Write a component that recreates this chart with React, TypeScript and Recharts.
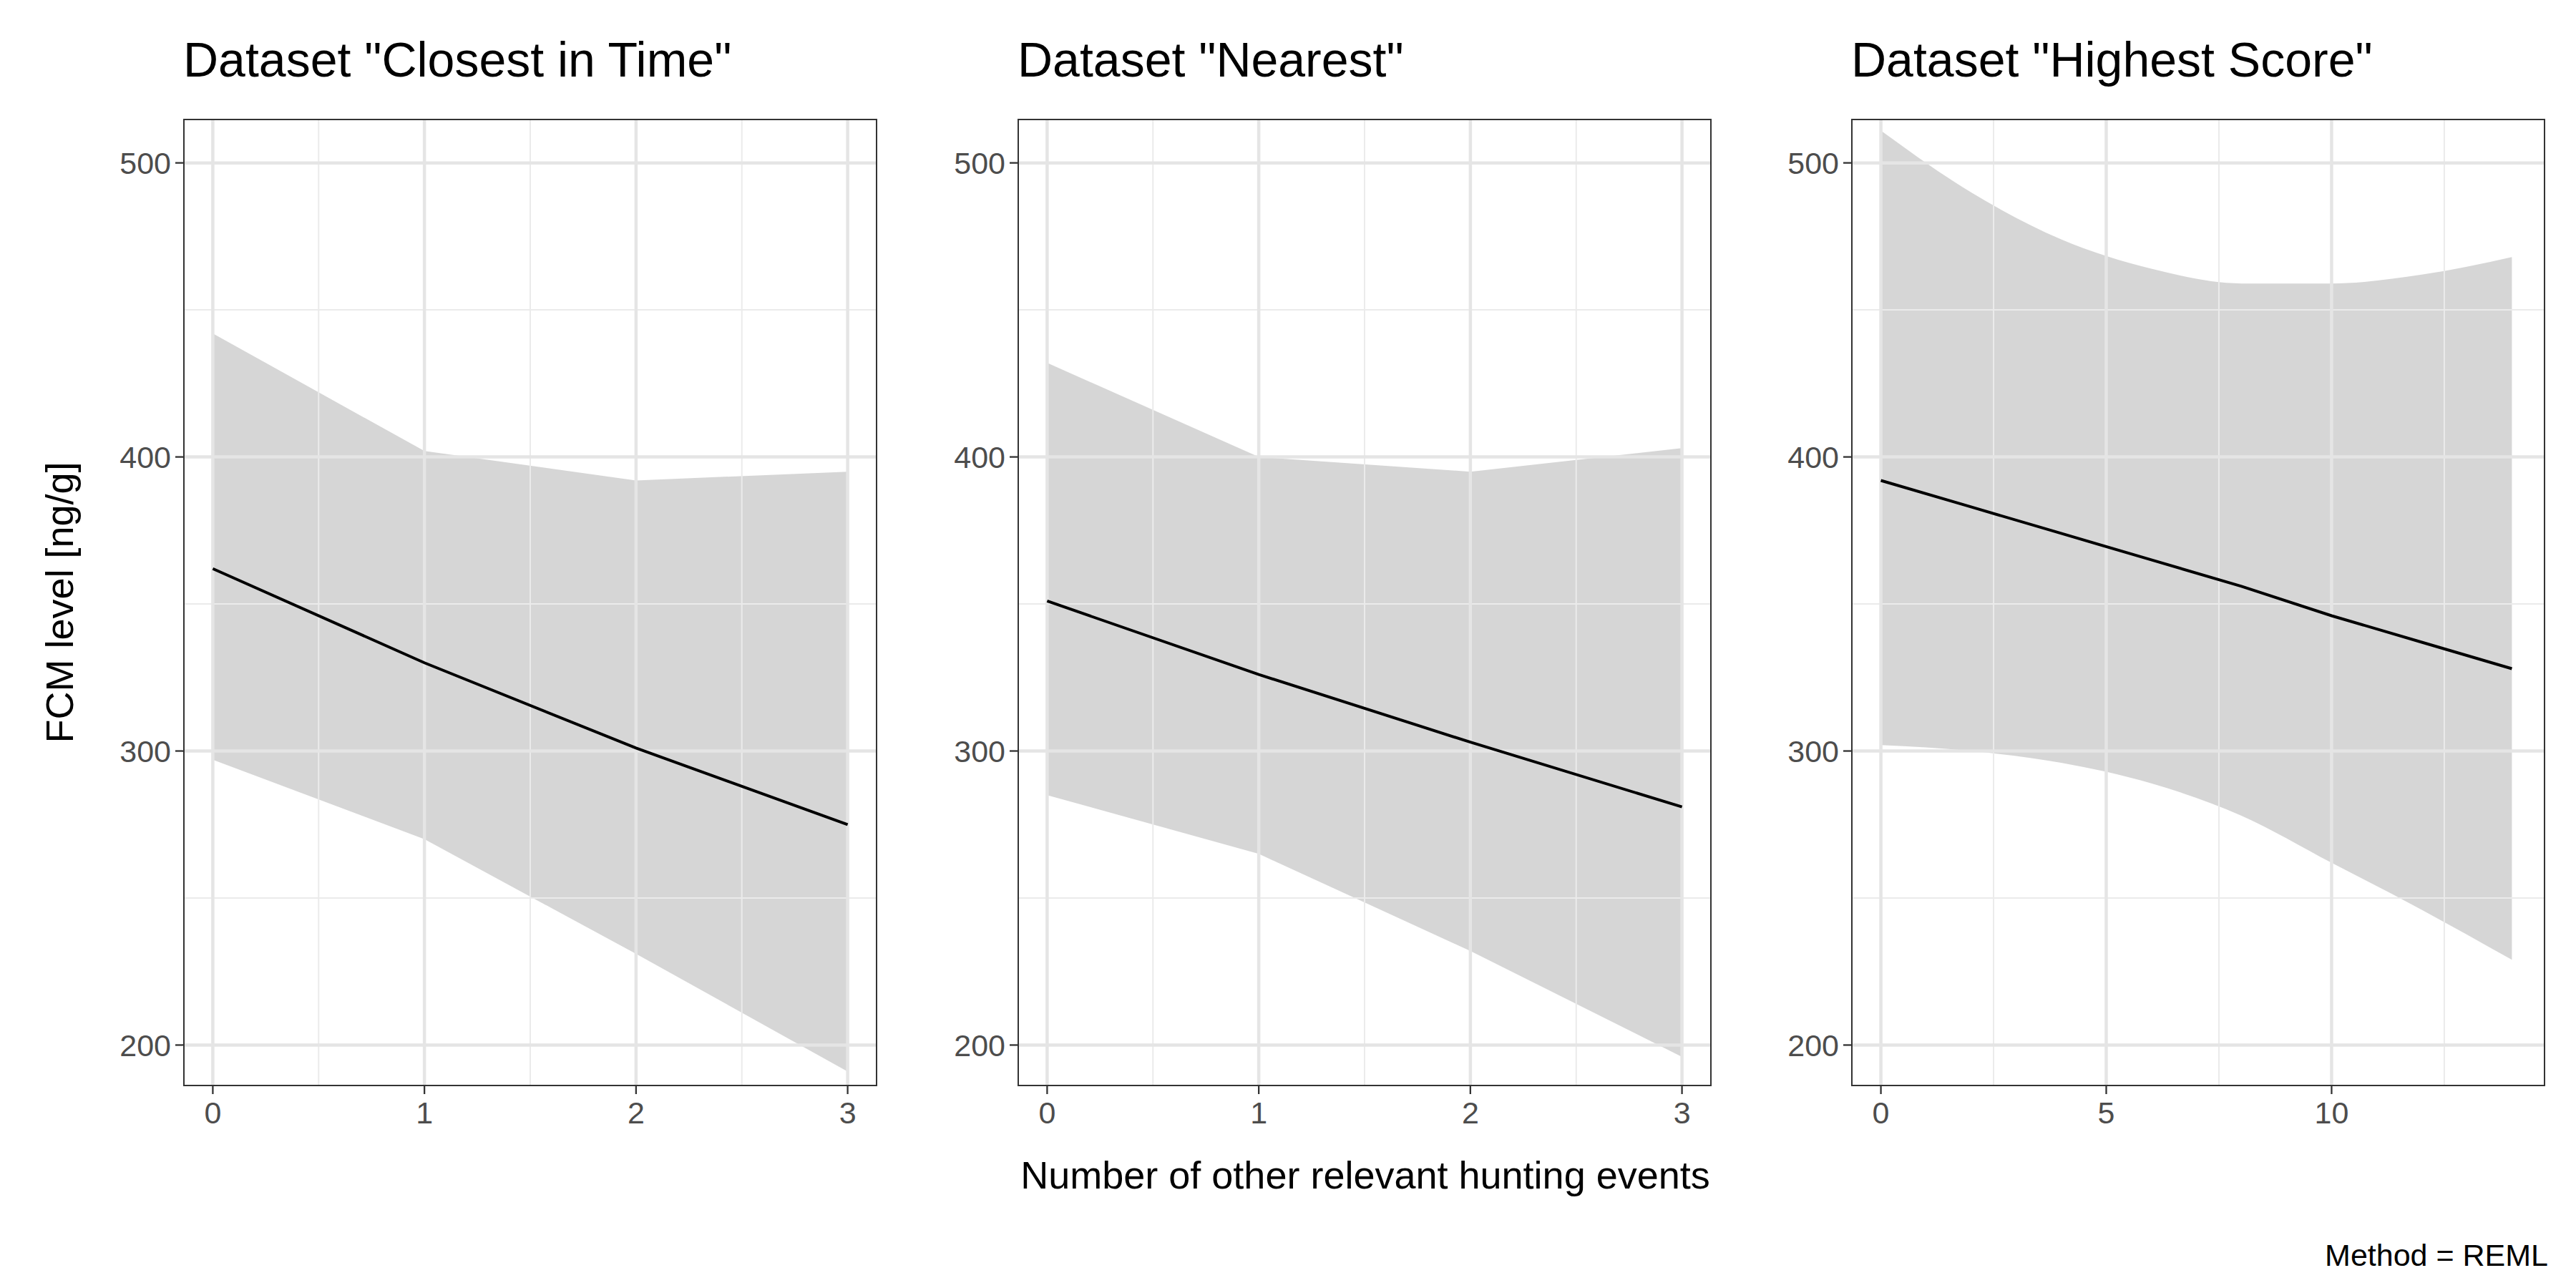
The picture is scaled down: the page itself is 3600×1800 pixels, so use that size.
import { ComposedChart, Area, Line, XAxis, YAxis, ReferenceLine } from "recharts";

const p1X = [0, 1, 2, 3];
const p1Fit = [362, 330, 301, 275];
const p1Lo = [297, 270, 231, 191];
const p1Hi = [442, 402, 392, 395];

const p2X = [0, 1, 2, 3];
const p2Fit = [351, 326, 303, 281];
const p2Lo = [285, 265, 232, 196];
const p2Hi = [432, 400, 395, 403];

const p3X = [0, 2, 4, 6, 8, 10, 12, 14];
const p3Fit = [392, 383, 374, 365, 356, 346, 337, 328];
const p3Lo = [302, 300, 296, 289, 278, 262, 246, 229];
const p3Hi = [511, 490, 474, 464, 459, 459, 462, 468];

const yTicks = [200, 300, 400, 500];
const yMinor = [250, 350, 450];

const build = (xs: number[], fit: number[], lo: number[], hi: number[]) =>
  xs.map((x, i) => ({ x, fit: fit[i], range: [lo[i], hi[i]] }));

const YW = 120;
const PW = 970;
const PH = 1352;
const XH = 90;
const TOP = 166;

function Panel({ left, title, data, xDomain, xTicks, xMinor, curve }: any) {
  const tick = { fontSize: 43, fill: "#4d4d4d", fontFamily: "Liberation Sans, Arial" };
  return (
    <>
      <div style={{ position: "absolute", left: left + YW, top: 44, fontSize: 68, fontFamily: "Liberation Sans, Arial", color: "#000", whiteSpace: "nowrap" }}>
        {title}
      </div>
      <div style={{ position: "absolute", left, top: TOP }}>
        <ComposedChart width={YW + PW} height={PH + XH} data={data} margin={{ top: 0, right: 0, bottom: 0, left: 0 }}>
          <XAxis dataKey="x" type="number" domain={xDomain} ticks={xTicks} allowDataOverflow axisLine={false} tickSize={11} tickLine={{ stroke: "#333", strokeWidth: 2.3 }} tick={tick} height={XH} tickMargin={10} />
          <YAxis type="number" domain={[186, 515]} ticks={yTicks} allowDataOverflow axisLine={false} tickSize={11} tickLine={{ stroke: "#333", strokeWidth: 2.3 }} tick={tick} width={YW} tickMargin={6} />
          {xMinor.map((v: number) => <ReferenceLine key={"xm" + v} x={v} stroke="#ebebeb" strokeWidth={2} />)}
          {yMinor.map((v) => <ReferenceLine key={"ym" + v} y={v} stroke="#ebebeb" strokeWidth={2} />)}
          {xTicks.map((v: number) => <ReferenceLine key={"x" + v} x={v} stroke="#e5e5e5" strokeWidth={4.5} />)}
          {yTicks.map((v) => <ReferenceLine key={"y" + v} y={v} stroke="#e5e5e5" strokeWidth={4.5} />)}
          <Area dataKey="range" type={curve} fill="#999999" fillOpacity={0.4} stroke="none" isAnimationActive={false} />
          <Line dataKey="fit" type="linear" stroke="#000" strokeWidth={4} dot={false} isAnimationActive={false} />
        </ComposedChart>
      </div>
      <div style={{ position: "absolute", left: left + YW, top: TOP, width: PW, height: PH, border: "2.3px solid #333", boxSizing: "border-box", pointerEvents: "none" }} />
    </>
  );
}

export default function App() {
  const font = "Liberation Sans, Arial";
  return (
    <div style={{ position: "absolute", left: 0, top: 0, width: 3600, height: 1800, background: "#fff", overflow: "hidden" }}>
      <Panel left={136} title={'Dataset "Closest in Time"'} data={build(p1X, p1Fit, p1Lo, p1Hi)} xDomain={[-0.14, 3.14]} xTicks={[0, 1, 2, 3]} xMinor={[0.5, 1.5, 2.5]} curve="linear" />
      <Panel left={1302} title={'Dataset "Nearest"'} data={build(p2X, p2Fit, p2Lo, p2Hi)} xDomain={[-0.14, 3.14]} xTicks={[0, 1, 2, 3]} xMinor={[0.5, 1.5, 2.5]} curve="linear" />
      <Panel left={2467} title={'Dataset "Highest Score"'} data={build(p3X, p3Fit, p3Lo, p3Hi)} xDomain={[-0.66, 14.74]} xTicks={[0, 5, 10]} xMinor={[2.5, 7.5, 12.5]} curve="monotone" />
      <div style={{ position: "absolute", left: 83, top: 842, transform: "translate(-50%, -50%) rotate(-90deg)", fontSize: 54, fontFamily: font, whiteSpace: "nowrap" }}>
        FCM level [ng/g]
      </div>
      <div style={{ position: "absolute", left: 1908, top: 1642, transform: "translate(-50%, -50%)", fontSize: 54, fontFamily: font, whiteSpace: "nowrap" }}>
        Number of other relevant hunting events
      </div>
      <div style={{ position: "absolute", right: 39, top: 1730, fontSize: 43, fontFamily: font, whiteSpace: "nowrap" }}>
        Method = REML
      </div>
    </div>
  );
}
